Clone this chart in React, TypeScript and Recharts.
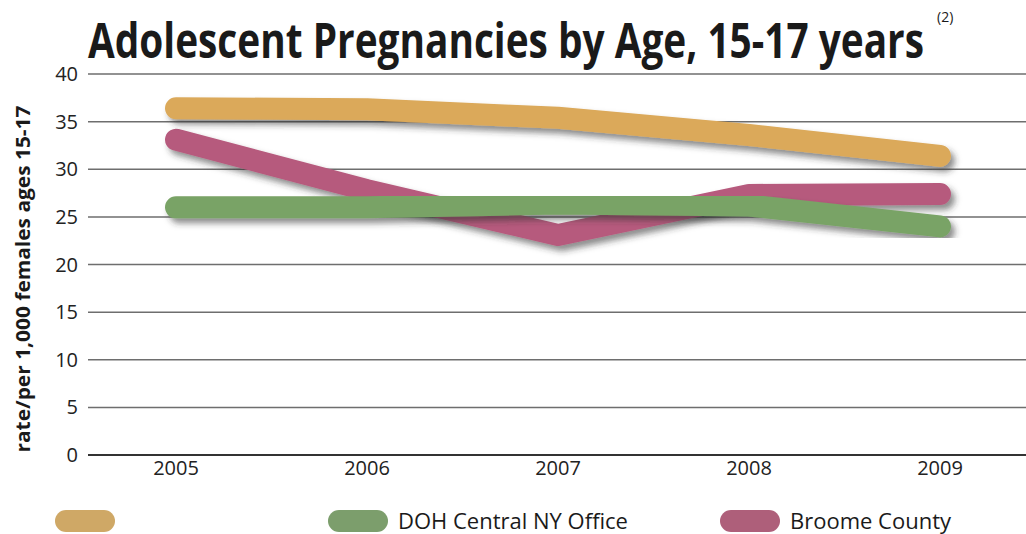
import React from "react";
import { LineChart, Line, XAxis, YAxis, CartesianGrid } from "recharts";

const years = ["2005", "2006", "2007", "2008", "2009"];
const seriesA = [36.4, 36.3, 35.4, 33.6, 31.4];
const doh = [26.0, 26.0, 26.4, 26.2, 24.0];
const broome = [33.1, 27.8, 23.1, 27.3, 27.4];
const yTicks = [0, 5, 10, 15, 20, 25, 30, 35, 40];

const data = years.map((y, i) => ({ year: y, a: seriesA[i], doh: doh[i], broome: broome[i] }));

const YELLOW = "#DBA95A";
const GREEN = "#79A366";
const PINK = "#B65A7D";
const FONT = "'Open Sans', sans-serif";
const TITLE_SCALE = 0.7;

export default function App() {
  return (
    <div style={{ position: "absolute", left: 0, top: 0, width: 1026, height: 534, background: "#fff" }}>
      <LineChart width={1026} height={534} data={data} margin={{ top: 74, right: 0, left: 0, bottom: 49 }}>
        <defs>
          <filter id="shadow" x="-10%" y="-30%" width="130%" height="180%">
            <feDropShadow dx="4" dy="5" stdDeviation="3" floodColor="#333" floodOpacity="0.55" />
          </filter>
        </defs>
        <CartesianGrid vertical={false} stroke="#6e6e6e" strokeWidth={1.5} />
        <XAxis
          dataKey="year"
          height={30}
          padding={{ left: 88, right: 86 }}
          tickLine={false}
          tickSize={0}
          tickMargin={6}
          axisLine={{ stroke: "#333", strokeWidth: 2 }}
          tick={{ fill: "#222", fontSize: 20, fontFamily: FONT }}
        />
        <YAxis
          width={88}
          domain={[0, 40]}
          ticks={yTicks}
          interval={0}
          tickLine={false}
          tickSize={0}
          tickMargin={10}
          axisLine={false}
          tick={{ fill: "#222", fontSize: 20, fontFamily: FONT }}
        />
        <Line dataKey="broome" stroke={PINK} strokeWidth={22} strokeLinecap="round" strokeLinejoin="round" dot={false} activeDot={false} isAnimationActive={false} filter="url(#shadow)" />
        <Line dataKey="doh" stroke={GREEN} strokeWidth={22} strokeLinecap="round" strokeLinejoin="round" dot={false} activeDot={false} isAnimationActive={false} filter="url(#shadow)" />
        <Line dataKey="a" stroke={YELLOW} strokeWidth={22} strokeLinecap="round" strokeLinejoin="round" dot={false} activeDot={false} isAnimationActive={false} filter="url(#shadow)" />
      </LineChart>
      <svg width={1026} height={534} style={{ position: "absolute", left: 0, top: 0, pointerEvents: "none" }}>
        <g transform={`translate(88, 58) scale(${TITLE_SCALE}, 1)`}>
          <text x={0} y={0} fontFamily={FONT} fontWeight={700} fontSize={48} fill="#1a1a1a" textLength={836 / TITLE_SCALE} lengthAdjust="spacingAndGlyphs">
            Adolescent Pregnancies by Age, 15-17 years
          </text>
        </g>
        <text x={937} y={22} fontFamily={FONT} fontSize={14} fill="#1a1a1a">(2)</text>
        <text
          transform="translate(30, 279) rotate(-90)"
          textAnchor="middle"
          fontFamily={FONT}
          fontWeight={700}
          fontSize={19}
          fill="#1a1a1a"
          textLength={347}
          lengthAdjust="spacingAndGlyphs"
        >
          rate/per 1,000 females ages 15-17
        </text>
        <rect x={55} y={510} width={60} height={22} rx={11} fill="#CFA866" />
        <rect x={328} y={510} width={60} height={22} rx={11} fill="#7C9E6C" />
        <text x={398} y={529} fontFamily={FONT} fontSize={22} fill="#1a1a1a">DOH Central NY Office</text>
        <rect x={720} y={510} width={60} height={22} rx={11} fill="#AE5F7A" />
        <text x={790} y={529} fontFamily={FONT} fontSize={22} fill="#1a1a1a">Broome County</text>
      </svg>
    </div>
  );
}
